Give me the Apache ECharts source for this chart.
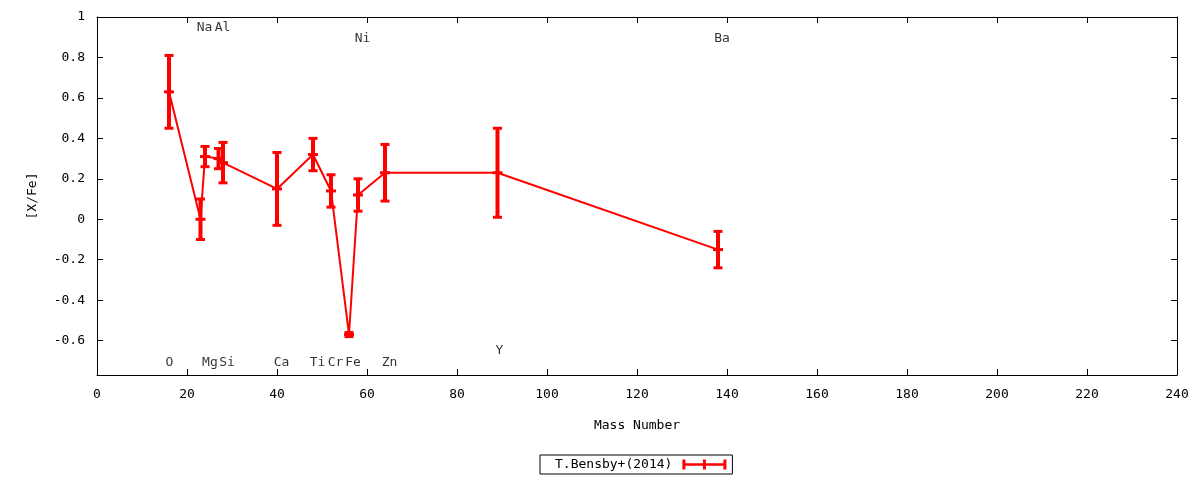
<!DOCTYPE html>
<html>
<head>
<meta charset="utf-8">
<script src="https://cdn.jsdelivr.net/npm/echarts@6/dist/echarts.min.js"></script>
<style>html,body{margin:0;padding:0;background:#fff}#c{width:1200px;height:480px}</style>
</head>
<body>
<div id="c"></div>
<script>
var elements = ['O','Na','Mg','Al','Si','Ca','Ti','Cr','Fe','Ni','Zn','Y','Ba'];
var massNumbers = [16, 23, 24, 27, 28, 40, 48, 52, 56, 58, 64, 89, 138];
var xFeValues = [0.63, 0.00, 0.31, 0.30, 0.28, 0.15, 0.32, 0.14, -0.57, 0.12, 0.23, 0.23, -0.15];
var xFeErrors = [0.18, 0.10, 0.05, 0.05, 0.10, 0.18, 0.08, 0.08, 0.01, 0.08, 0.14, 0.22, 0.09];
// element label positions (data units)
var labelX = [16.1, 23.9, 25.1, 27.9, 28.9, 41.0, 49.0, 53.0, 56.9, 59.0, 65.0, 89.4, 138.9];
var labelY = [-0.71, 0.945, -0.71, 0.945, -0.71, -0.71, -0.71, -0.71, -0.71, 0.895, -0.71, -0.65, 0.895];
var yTickValues = [-0.6, -0.4, -0.2, 0, 0.2, 0.4, 0.6, 0.8, 1];
var seriesName = 'T.Bensby+(2014)';

var lineData = massNumbers.map(function(m, i){ return [m, xFeValues[i]]; });
var errData = massNumbers.map(function(m, i){ return [m, xFeValues[i], xFeValues[i]-xFeErrors[i], xFeValues[i]+xFeErrors[i]]; });
var labelData = elements.map(function(e, i){ return {value:[labelX[i], labelY[i]], name:e}; });

var font = 'DejaVu Sans Mono';
var fs = 13;
var axisCommon = {
  axisLine: {show:true, onZero:false, lineStyle:{color:'#000', width:1}},
  splitLine: {show:false}
};

var chart = echarts.init(document.getElementById('c'));
chart.setOption({
  animation: false,
  backgroundColor: '#fff',
  grid: {left:97, right:23, top:17, bottom:105},
  xAxis: [
    Object.assign({}, axisCommon, {
      type:'value', min:0, max:240, interval:20, position:'bottom',
      axisTick:{show:true, inside:true, length:6, lineStyle:{color:'#000'}},
      axisLabel:{color:'#000', fontFamily:font, fontSize:fs, margin:13},
      name:'Mass Number', nameLocation:'middle', nameGap:44,
      nameTextStyle:{color:'#000', fontFamily:font, fontSize:fs}
    }),
    Object.assign({}, axisCommon, {
      type:'value', min:0, max:240, interval:20, position:'top',
      axisTick:{show:true, inside:true, length:6, lineStyle:{color:'#000'}},
      axisLabel:{show:false}
    })
  ],
  yAxis: [
    Object.assign({}, axisCommon, {
      type:'value', min:-0.77, max:1, position:'left',
      axisTick:{show:true, inside:true, length:6, customValues:yTickValues, lineStyle:{color:'#000'}},
      axisLabel:{color:'#000', fontFamily:font, fontSize:fs, margin:12, customValues:yTickValues,
        formatter:function(v){ return String(Math.round(v*10)/10); }},
      name:'[X/Fe]', nameLocation:'middle', nameGap:58, nameRotate:90,
      nameTextStyle:{color:'#000', fontFamily:font, fontSize:fs}
    }),
    Object.assign({}, axisCommon, {
      type:'value', min:-0.77, max:1, position:'right',
      axisTick:{show:true, inside:true, length:6, customValues:yTickValues, lineStyle:{color:'#000'}},
      axisLabel:{show:false}
    })
  ],
  legend: {
    data:[{name:seriesName, icon:'path://M0,0h3v10h-3z M20.5,0h3v10h-3z M41,0h3v10h-3z M0,3.8h44v2.4h-44z'}],
    bottom:6, left:540, align:'right',
    itemWidth:44, itemHeight:10, itemGap:14,
    borderColor:'#000', borderWidth:1, borderRadius:0, padding:[3,6,3,15],
    textStyle:{color:'#000', fontFamily:font, fontSize:fs, padding:[0,5,0,0]},
    selectedMode:false
  },
  series: [
    {
      name: seriesName, type:'line', data: lineData, showSymbol:false,
      color:'#ff0000', lineStyle:{color:'#ff0000', width:2}, z:2
    },
    {
      name: seriesName, type:'custom', data: errData, color:'#ff0000', z:3,
      renderItem: function(params, api){
        var x = api.value(0), y = api.value(1), lo = api.value(2), hi = api.value(3);
        var pc = api.coord([x, y]), pl = api.coord([x, lo]), ph = api.coord([x, hi]);
        var hw = 4.5;
        var st = {stroke:'#ff0000', lineWidth:4};
        var st2 = {stroke:'#ff0000', lineWidth:3};
        return {type:'group', children:[
          {type:'line', shape:{x1:pc[0], y1:ph[1], x2:pc[0], y2:pl[1]}, style:st},
          {type:'line', shape:{x1:pc[0]-hw, y1:ph[1], x2:pc[0]+hw, y2:ph[1]}, style:st2},
          {type:'line', shape:{x1:pc[0]-hw, y1:pl[1], x2:pc[0]+hw, y2:pl[1]}, style:st2},
          {type:'line', shape:{x1:pc[0]-hw-0.5, y1:pc[1], x2:pc[0]+hw+0.5, y2:pc[1]}, style:st2}
        ]};
      }
    },
    {
      name:'labels', type:'scatter', data: labelData, symbolSize:0, silent:true,
      label:{show:true, position:'inside', formatter:'{b}', color:'#000', fontFamily:font, fontSize:fs}
    }
  ]
});
</script>
</body>
</html>
